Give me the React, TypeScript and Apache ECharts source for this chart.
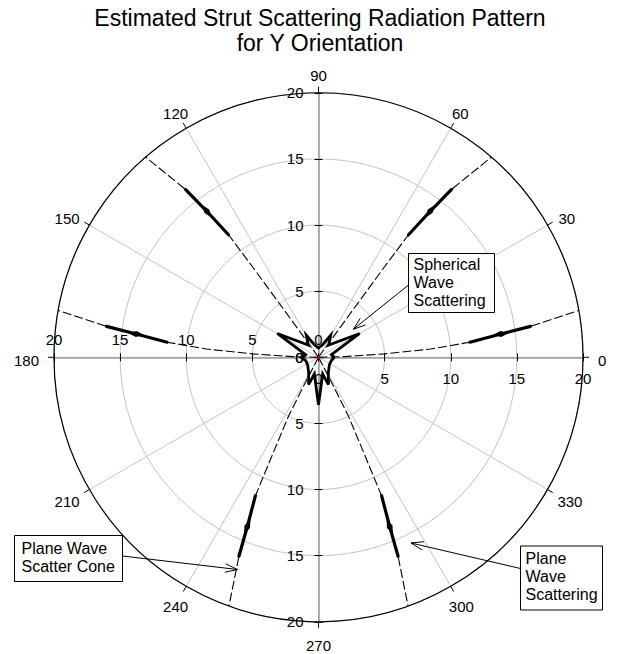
import React, { useEffect, useRef } from 'react';
import * as echarts from 'echarts';

// ---------- data ----------
const TITLE_LINES = ['Estimated Strut Scattering Radiation Pattern', 'for Y Orientation'];

const RADIUS_MAX = 20;
const RADIUS_STEP = 5;
const ANGLE_STEP = 30;
const ANGLE_TICKS = [0, 30, 60, 90, 120, 150, 180, 210, 240, 270, 300, 330];
const RADIUS_AXIS_DIRECTIONS = [0, 90, 180, 270];

// plane-wave scatter cones: angle (deg) sampled at these radii
const coneRadii = [0, 2, 5, 8.5, 11.5, 13.9, 16.2, 20];
const coneRight = [0, 1.5, 3, 4.2, 5.7, 7.3, 8.3, 10.2];
const coneUpperRight = [54, 54, 54, 53.9, 53.7, 52.6, 51.6, 49.2];
const coneUpperLeft = [126, 126, 126, 126.1, 126.3, 127.4, 128.4, 130.8];
const coneLeft = [180, 178.5, 177, 175.8, 174.3, 172.7, 171.7, 169.8];
const coneLowerLeft = [242.5, 242.5, 243, 244.8, 245.5, 247.2, 248.2, 250.2];
const coneLowerRight = [297.5, 297.5, 297, 295.2, 294.5, 292.8, 291.8, 289.8];

// plane-wave scattering lobes (radius range and peak)
const LOBE_START = 11.5;
const LOBE_PEAK = 13.9;
const LOBE_END = 16.2;

// spherical-wave scattering pattern near the origin
const starAngles = [0, 12, 30, 50, 61, 72, 90, 108, 119, 130, 150, 168, 180, 195, 215, 238, 250, 256, 270, 284, 290, 302, 325, 345, 360];
const starRadii = [1.2, 1.0, 3.6, 1.2, 1.9, 1.0, 0.7, 1.0, 1.9, 1.2, 3.6, 1.0, 1.3, 1.0, 1.0, 1.4, 2.2, 1.3, 3.6, 1.3, 2.2, 1.4, 1.0, 1.0, 1.2];

// ---------- layout / style ----------
const CENTER = [318.5, 357.3];
const RADIUS_PX = 264.5;
const FONT = '"Liberation Sans", Arial, Helvetica, sans-serif';

function arrow(x1: number, y1: number, x2: number, y2: number) {
  const ang = Math.atan2(y2 - y1, x2 - x1);
  const len = 13;
  const spread = 0.33;
  const p1 = [x2 - len * Math.cos(ang - spread), y2 - len * Math.sin(ang - spread)];
  const p2 = [x2 - len * Math.cos(ang + spread), y2 - len * Math.sin(ang + spread)];
  return [
    { type: 'line', shape: { x1, y1, x2, y2 }, style: { stroke: '#000', lineWidth: 1 }, z: 100 },
    { type: 'polyline', shape: { points: [p1, [x2, y2], p2] }, style: { stroke: '#000', fill: null, lineWidth: 1 }, z: 100 },
  ];
}

function box(x: number, y: number, w: number, h: number, tx: number, ty: number, lines: string[]) {
  return [
    { type: 'rect', shape: { x, y, width: w, height: h }, style: { fill: '#fff', stroke: '#000', lineWidth: 1 }, z: 100 },
    {
      type: 'text', x: tx, y: ty, z: 101,
      style: {
        text: lines.join('\n'), font: `16px ${FONT}`, fill: '#000', lineHeight: 18,
        align: 'left', verticalAlign: 'top', textAlign: 'left', textVerticalAlign: 'top',
      },
    },
  ];
}

// offset of an angle label from its tick end on the outer circle (pixels)
function angleLabelOffset(a: number) {
  const t = (a * Math.PI) / 180;
  const c = Math.cos(t);
  const s = Math.sin(t);
  const w = String(a).length * 8.34;
  const h = 11;
  const gap = 15;
  return [gap * c + (w / 2) * c * Math.abs(c), -gap * s - (h / 2) * s * Math.abs(s) + 2.7];
}

function buildOption() {
  const polar: any[] = [];
  const angleAxis: any[] = [];
  const radiusAxis: any[] = [];
  const labelCfg: Record<number, any> = {
    0: { margin: -14, align: 'center', verticalAlign: 'top' },
    90: { margin: 15 },
    180: { margin: -10, align: 'center', verticalAlign: 'bottom' },
    270: { margin: -15, align: 'right', verticalAlign: 'middle' },
  };
  RADIUS_AXIS_DIRECTIONS.forEach((dir) => {
    [0, 1].forEach((side) => {
      const idx = polar.length;
      const main = idx === 0;
      polar.push({ center: CENTER, radius: RADIUS_PX });
      angleAxis.push({
        polarIndex: idx, type: 'value', min: 0, max: 360, interval: ANGLE_STEP,
        startAngle: dir, clockwise: false, show: main,
        axisLine: { show: true, lineStyle: { color: '#000', width: 1.2 } },
        axisTick: { show: true, length: 6, lineStyle: { color: '#000', width: 1 } },
        axisLabel: { show: false },
        splitLine: { show: true, lineStyle: { color: '#c4c4c4', width: 1 } },
      });
      radiusAxis.push({
        polarIndex: idx, type: 'value', min: 0, max: RADIUS_MAX, interval: RADIUS_STEP,
        axisLine: { show: side === 0, lineStyle: { color: '#9c9c9c', width: 1.6 } },
        axisTick: { show: true, length: side === 0 ? 4 : -4, lineStyle: { color: '#000', width: 1 } },
        axisLabel: side === 0
          ? { show: true, fontSize: 15, color: '#000', fontFamily: FONT, ...labelCfg[dir] }
          : { show: false },
        splitLine: { show: main, lineStyle: { color: '#c4c4c4', width: 1 } },
      });
    });
  });

  const cones = [coneRight, coneUpperRight, coneUpperLeft, coneLeft, coneLowerLeft, coneLowerRight];

  const coneSeries = cones.map((angles) => ({
    type: 'line', coordinateSystem: 'polar', polarIndex: 0, silent: true,
    symbol: 'none', showSymbol: false, z: 3,
    data: coneRadii.map((r, i) => [r, angles[i]]),
    lineStyle: { color: '#000', width: 1.1, type: [9, 3] },
  }));

  const lobeSeries = cones.map((angles) => ({
    type: 'line', coordinateSystem: 'polar', polarIndex: 0, silent: true, z: 4,
    showSymbol: true,
    data: coneRadii
      .map((r, i) => ({ r, a: angles[i] }))
      .filter((p) => p.r >= LOBE_START && p.r <= LOBE_END)
      .map((p) => (p.r === LOBE_PEAK
        ? { value: [p.r, p.a], symbol: 'diamond', symbolSize: [6, 16], symbolRotate: p.a - 90 }
        : { value: [p.r, p.a], symbol: 'none' })),
    lineStyle: { color: '#000', width: 3.2, cap: 'round' },
    itemStyle: { color: '#000' },
  }));

  const starSeries = {
    type: 'line', coordinateSystem: 'polar', polarIndex: 0, silent: true, z: 5,
    symbol: 'none', showSymbol: false,
    data: starRadii.map((r, i) => [r, starAngles[i]]),
    lineStyle: { color: '#000', width: 2.8, join: 'miter' },
  };

  const originSeries = {
    type: 'scatter', coordinateSystem: 'polar', polarIndex: 0, silent: true, z: 6,
    symbol: 'rect', symbolSize: 3, itemStyle: { color: '#e00000' },
    data: [[0, 0]],
  };

  const angleLabelSeries = {
    type: 'scatter', coordinateSystem: 'polar', polarIndex: 0, silent: true, z: 7,
    symbol: 'circle', symbolSize: 1, itemStyle: { color: 'rgba(0,0,0,0)' },
    data: ANGLE_TICKS.map((a) => ({ value: [RADIUS_MAX, a], label: { offset: angleLabelOffset(a) } })),
    label: {
      show: true, position: 'inside', color: '#000', opacity: 1, fontSize: 15, fontFamily: FONT,
      textBorderWidth: 0, formatter: (p: any) => String(p.value[1]),
    },
  };

  const graphic = [
    {
      type: 'text', x: 320, y: 5, z: 101,
      style: {
        text: TITLE_LINES.join('\n'), font: `23px ${FONT}`, fill: '#000', lineHeight: 25,
        align: 'center', verticalAlign: 'top', textAlign: 'center', textVerticalAlign: 'top',
      },
    },
    ...arrow(408.5, 285, 353.3, 329.3),
    ...box(408.5, 253.5, 86, 59, 413.5, 255.5, ['Spherical', 'Wave', 'Scattering']),
    ...arrow(122.5, 556, 237.5, 569.5),
    ...box(14.5, 535.5, 108, 46, 21.5, 539, ['Plane Wave', 'Scatter Cone']),
    ...arrow(520.5, 568.5, 411, 543),
    ...box(520.5, 546, 82, 64, 525.5, 549.5, ['Plane', 'Wave', 'Scattering']),
  ];

  return {
    animation: false,
    backgroundColor: '#fff',
    textStyle: { fontFamily: FONT },
    polar,
    angleAxis,
    radiusAxis,
    series: [...coneSeries, ...lobeSeries, starSeries, originSeries, angleLabelSeries],
    graphic,
  };
}

export default function App() {
  const ref = useRef<HTMLDivElement>(null);
  useEffect(() => {
    const chart = echarts.init(ref.current as HTMLDivElement, undefined, { renderer: 'svg' });
    chart.setOption(buildOption() as any);
    return () => chart.dispose();
  }, []);
  return (
    <div
      ref={ref}
      style={{ position: 'absolute', left: 0, top: 0, width: 629, height: 654, background: '#fff' }}
    />
  );
}
